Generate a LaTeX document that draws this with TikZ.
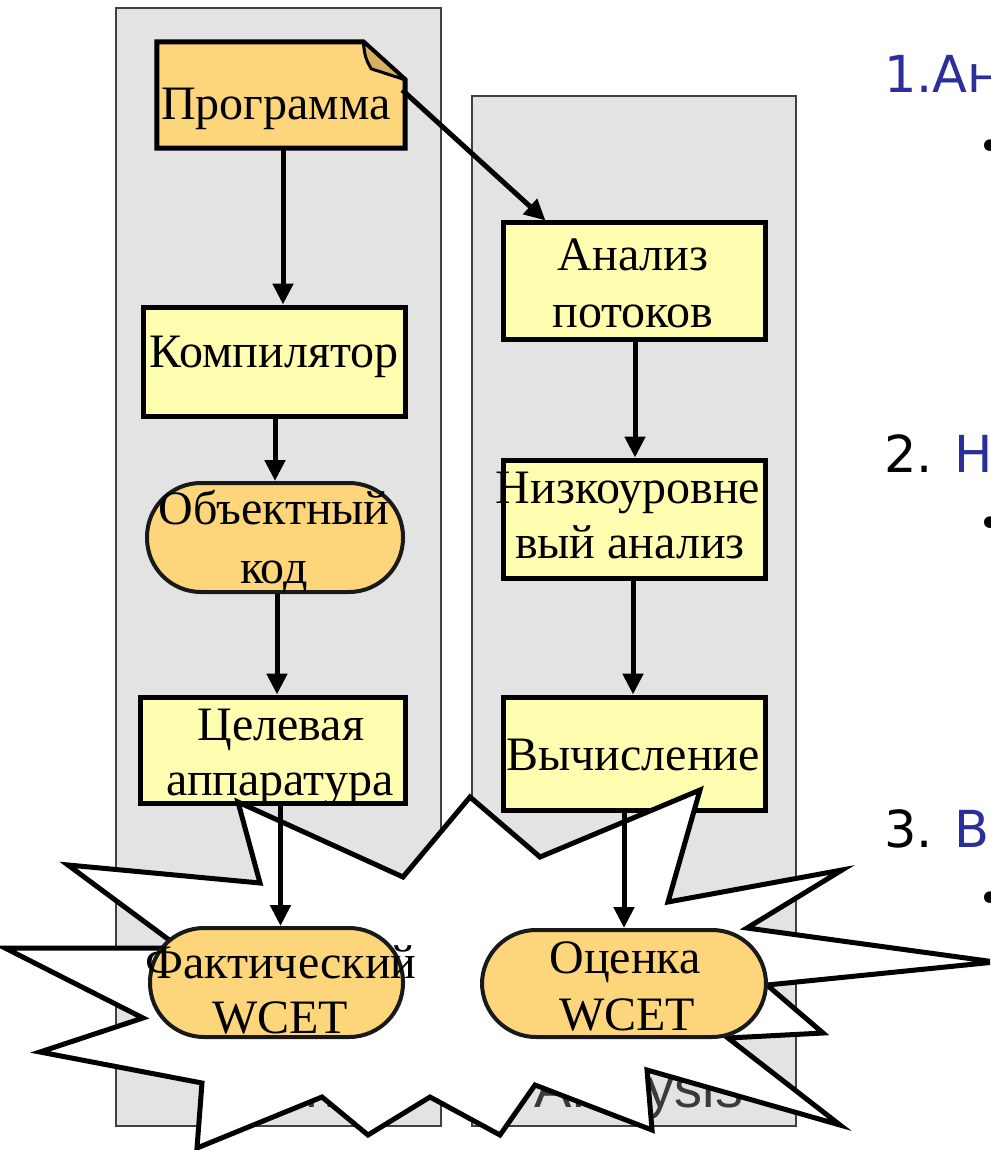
\documentclass[tikz,border=0pt]{standalone}
\usepackage{fontspec}
\setmainfont{Liberation Serif}
\newfontfamily\panelfont{Liberation Sans}
\newfontfamily\slidefont{DejaVu Sans}
\usetikzlibrary{arrows.meta,calc}
\definecolor{panelgrey}{HTML}{E3E3E3}
\definecolor{boxyellow}{HTML}{FFFDB0}
\definecolor{boxorange}{HTML}{FDD57A}
\definecolor{folddark}{HTML}{D6B060}
\definecolor{titleblue}{HTML}{2B2E9C}
\definecolor{labelgrey}{HTML}{3A3A3A}
\begin{document}
\begin{tikzpicture}[x=1pt,y=-1pt,
  panel/.style={draw=black!75, line width=2pt, fill=panelgrey, inner sep=0pt, anchor=north west},
  rbox/.style={draw=black, line width=5pt, fill=boxyellow, inner sep=0pt},
  pill/.style={draw=black!90, line width=4pt, fill=boxorange, inner sep=0pt, rounded corners=54pt},
  lbl/.style={font=\fontsize{48}{57}\selectfont, inner sep=0pt, anchor=base},
  plbl/.style={font=\panelfont\fontsize{56}{60}\selectfont, text=labelgrey, inner sep=0pt, anchor=base},
  arr/.style={-{Triangle[length=21pt,width=20pt]}, line width=5pt},
  burst/.style={draw=black, fill=white, line width=5pt, line join=miter},
  slide/.style={font=\slidefont\fontsize{51}{56}\selectfont, inner sep=0pt, anchor=base west},
  bul/.style={font=\slidefont\fontsize{40}{44}\selectfont, inner sep=0pt, anchor=base west}
]
\useasboundingbox[fill=white] (0,0) rectangle (990,1150);
\begin{scope}
\clip (0,0) rectangle (990,1150);

% panels
\node[panel, minimum width=325pt, minimum height=1118pt] (leftpanel) at (115,7) {};
\node[panel, minimum width=324pt, minimum height=1030pt] (rightpanel) at (471,95) {};
\node[plbl] (leftlabel) at (279,1107) {Testing};
\node[plbl] (rightlabel) at (639,1107) {Analysis};

% program (document shape)
\node[inner sep=0pt, minimum width=248pt, minimum height=106pt] (prog) at (281,95) {};
\draw[line width=5pt, fill=boxorange, line join=miter]
  (prog.south west) -- (prog.north west) -- ($(prog.north east)+(-42,0)$)
  -- ($(prog.north east)+(0,38)$) -- (prog.south east) -- cycle;
\draw[line width=3pt, fill=folddark, line join=round]
  ($(prog.north east)+(-42,0)$) .. controls ($(prog.north east)+(-40,16)$) .. ($(prog.north east)+(-34,27)$)
  -- ($(prog.north east)+(0,38)$) -- cycle;
\node[lbl] (progtext) at (276,120) {Программа};

% rectangular boxes
\node[rbox, minimum width=262pt, minimum height=109pt] (comp) at (274,361.5) {};
\node[lbl] (comptext) at (274,367) {Компилятор};
\node[rbox, minimum width=265pt, minimum height=106pt] (target) at (272.5,750) {};
\node[lbl] (targettext1) at (281,740) {Целевая};
\node[lbl] (targettext2) at (280,795) {аппаратура};
\node[rbox, minimum width=262pt, minimum height=116pt] (flow) at (634,281) {};
\node[lbl] (flowtext1) at (633,270) {Анализ};
\node[lbl] (flowtext2) at (633,327) {потоков};
\node[rbox, minimum width=262pt, minimum height=118pt] (low) at (634,519) {};
\node[lbl] (lowtext1) at (628,503) {Низкоуровне};
\node[lbl] (lowtext2) at (630,558) {вый анализ};
\node[rbox, minimum width=262pt, minimum height=113pt] (calc) at (634,753.5) {};
\node[lbl] (calctext) at (633,770) {Вычисление};

% explosion
\draw[burst] (500,1135) -- (430,1097) -- (368,1135) -- (322,1097) -- (197,1148)
  -- (202,1083) -- (40,1052) -- (143,1018) -- (5,948) -- (180,948) -- (68,865)
  -- (260,883) -- (238,802) -- (403,877) -- (470,797) -- (540,857) -- (700,790)
  -- (668,902) -- (842,870) -- (747,928) -- (995,962) -- (767,985) -- (823,1033)
  -- (728,1038) -- (840,1125) -- (647,1070) -- (652,1130) -- (535,1085) -- cycle;

% rounded nodes
\node[pill, minimum width=256pt, minimum height=109pt] (obj) at (275,537.5) {};
\node[lbl] (objtext1) at (274,524) {Объектный};
\node[lbl] (objtext2) at (274,583) {код};
\node[pill, minimum width=253pt, minimum height=109pt] (actual) at (276.5,982.5) {};
\node[lbl] (actualtext1) at (281,978) {Фактический};
\node[lbl] (actualtext2) at (280,1033) {WCET};
\node[pill, minimum width=284pt, minimum height=107pt] (est) at (624,983.5) {};
\node[lbl] (esttext1) at (625,973) {Оценка};
\node[lbl] (esttext2) at (627,1030) {WCET};

% connectors
\coordinate (flowin) at ($(flow.north west)+(45,0)$);
\draw[arr] ([xshift=2pt]prog.south) -- ([xshift=2pt]prog.south |- comp.north);
\draw[arr] ([xshift=1pt]comp.south) -- ([xshift=1pt]comp.south |- obj.north);
\draw[arr] ([xshift=2pt]obj.south) -- ([xshift=2pt]obj.south |- target.north);
\draw[arr] ([xshift=8pt]target.south) -- ([xshift=8pt]target.south |- actual.north);
\draw[arr] ($(prog.east)+(-3,-5)$) -- (flowin);
\draw[arr] ([xshift=1pt]flow.south) -- ([xshift=1pt]flow.south |- low.north);
\draw[arr] ([xshift=-1pt]low.south) -- ([xshift=-1pt]low.south |- calc.north);
\draw[arr] ([xshift=-10pt]calc.south) -- ([xshift=-10pt]calc.south |- est.north);

% slide text (cut at the right edge, as in the reference)
\node[slide, text=titleblue] (item1) at (884,93) {1.Анализ потоков};
\node[bul] (bul1) at (978,161) {•};
\node[slide] (item2) at (884,472) {2. \textcolor{titleblue}{Низкоуровневый анализ}};
\node[bul] (bul2) at (978,537) {•};
\node[slide] (item3) at (884,847) {3. \textcolor{titleblue}{Вычисление}};
\node[bul] (bul3) at (978,912) {•};
\end{scope}
\end{tikzpicture}
\end{document}
